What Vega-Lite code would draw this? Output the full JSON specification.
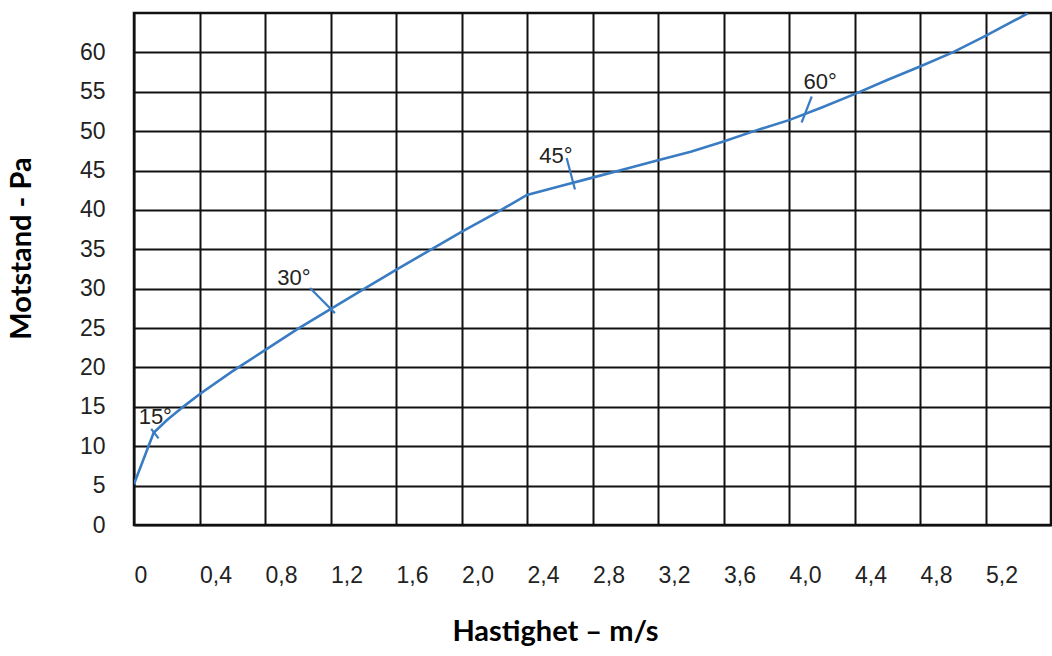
{
  "$schema": "https://vega.github.io/schema/vega-lite/v6.json",
  "width": 917,
  "height": 512,
  "autosize": "none",
  "padding": {"left": 134, "top": 13, "right": 1, "bottom": 131},
  "background": "white",
  "config": {
    "view": {"stroke": "#111", "strokeWidth": 2.5},
    "axis": {
      "labelFont": "Liberation Sans",
      "labelFontSize": 23,
      "labelColor": "#222",
      "titleFont": "Lato",
      "titleFontWeight": "bold",
      "titleFontSize": 29,
      "titleColor": "#000",
      "grid": true,
      "gridColor": "#111",
      "gridOpacity": 1,
      "gridWidth": 2,
      "domain": false,
      "ticks": false
    }
  },
  "datasets": {
    "curve": [
      {"v": 0, "p": 5.2},
      {"v": 0.12, "p": 11.7},
      {"v": 0.2, "p": 13.3},
      {"v": 0.3, "p": 15.0},
      {"v": 0.4, "p": 16.6},
      {"v": 0.6, "p": 19.5},
      {"v": 0.8, "p": 22.2},
      {"v": 1.0, "p": 24.9},
      {"v": 1.2, "p": 27.4},
      {"v": 1.4, "p": 29.9},
      {"v": 1.6, "p": 32.4},
      {"v": 1.8, "p": 34.8},
      {"v": 2.0, "p": 37.2},
      {"v": 2.2, "p": 39.5},
      {"v": 2.4, "p": 41.9},
      {"v": 2.6, "p": 43.0},
      {"v": 2.8, "p": 44.1},
      {"v": 3.0, "p": 45.2},
      {"v": 3.2, "p": 46.3},
      {"v": 3.4, "p": 47.4},
      {"v": 3.6, "p": 48.7},
      {"v": 3.8, "p": 50.1},
      {"v": 4.0, "p": 51.4},
      {"v": 4.2, "p": 53.0},
      {"v": 4.4, "p": 54.7},
      {"v": 4.6, "p": 56.5},
      {"v": 4.8, "p": 58.2},
      {"v": 5.0, "p": 60.0},
      {"v": 5.2, "p": 62.1},
      {"v": 5.4, "p": 64.3},
      {"v": 5.46, "p": 65.0}
    ],
    "leaders": [
      {"x1": 0.105, "y1": 12.2, "x2": 0.15, "y2": 11.0},
      {"x1": 1.075, "y1": 30.1, "x2": 1.227, "y2": 26.9},
      {"x1": 2.642, "y1": 46.6, "x2": 2.693, "y2": 42.6},
      {"x1": 4.139, "y1": 54.4, "x2": 4.077, "y2": 51.1}
    ],
    "labels": [
      {"x": 0.13, "y": 13.7, "t": "15°"},
      {"x": 0.977, "y": 31.4, "t": "30°"},
      {"x": 2.577, "y": 46.9, "t": "45°"},
      {"x": 4.19, "y": 56.3, "t": "60°"}
    ]
  },
  "layer": [
    {
      "data": {"name": "curve"},
      "mark": {"type": "line", "color": "#3a7cc3", "strokeWidth": 2.6, "clip": true},
      "encoding": {
        "x": {
          "field": "v",
          "type": "quantitative",
          "scale": {"domain": [0, 5.6], "nice": false, "zero": false},
          "axis": {
            "title": "Hastighet – m/s",
            "values": [0, 0.4, 0.8, 1.2, 1.6, 2.0, 2.4, 2.8, 3.2, 3.6, 4.0, 4.4, 4.8, 5.2],
            "labelExpr": "datum.value == 0 ? '0' : replace(format(datum.value, '.1f'), '.', ',')",
            "labelAlign": "left",
            "labelDx": -9,
            "labelBaseline": "middle",
            "labelPadding": 50,
            "labelFlush": false,
            "titleX": 421,
            "titleY": 106,
            "titleAlign": "center",
            "titleBaseline": "middle"
          }
        },
        "y": {
          "field": "p",
          "type": "quantitative",
          "scale": {"domain": [0, 65], "nice": false},
          "axis": {
            "title": "Motstand - Pa",
            "values": [0, 5, 10, 15, 20, 25, 30, 35, 40, 45, 50, 55, 60],
            "labelPadding": 29,
            "labelBaseline": "middle",
            "labelFlush": false,
            "titleAngle": -90,
            "titleX": -113,
            "titleY": 235,
            "titleAlign": "center",
            "titleBaseline": "middle"
          }
        }
      }
    },
    {
      "data": {"name": "leaders"},
      "mark": {"type": "rule", "color": "#3a7cc3", "strokeWidth": 2.2},
      "encoding": {
        "x": {"field": "x1", "type": "quantitative"},
        "y": {"field": "y1", "type": "quantitative"},
        "x2": {"field": "x2"},
        "y2": {"field": "y2"}
      }
    },
    {
      "data": {"name": "labels"},
      "mark": {"type": "text", "font": "Liberation Sans", "fontSize": 22, "color": "#222", "align": "center", "baseline": "middle"},
      "encoding": {
        "x": {"field": "x", "type": "quantitative"},
        "y": {"field": "y", "type": "quantitative"},
        "text": {"field": "t"}
      }
    }
  ]
}
